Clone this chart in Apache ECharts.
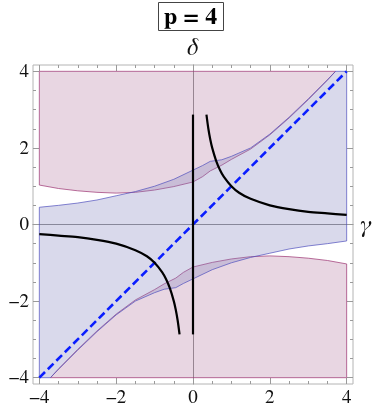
<!DOCTYPE html>
<html>
<head>
<meta charset="utf-8">
<script src="https://cdn.jsdelivr.net/npm/echarts@6/dist/echarts.min.js"></script>
<style>
html, body { margin: 0; padding: 0; background: #fff; }
#chart { width: 374px; height: 412px; }
</style>
</head>
<body>
<div id="chart"></div>
<script>
// tick values
var majorTicks = [-4, -2, 0, 2, 4];
var minorTicks = [-3.5, -3, -2.5, -1.5, -1, -0.5, 0.5, 1, 1.5, 2.5, 3, 3.5];
var plotMin = -4, plotMax = 4;

// blue region boundaries [gamma, delta]
var blueUpper = [[-4, 0.45], [-3.5, 0.50], [-3, 0.56], [-2.5, 0.64], [-2, 0.75], [-1.5, 0.86], [-1, 1.0], [-0.5, 1.18],
    [0, 1.42], [0.25, 1.54], [0.45, 1.65], [0.75, 1.69], [1, 1.78], [1.5, 2.0], [2, 2.36], [2.5, 2.8], [3, 3.28], [3.5, 3.78], [3.71, 4]];
var blueLower = [[-3.71, -4], [-3.5, -3.78], [-3, -3.28], [-2.5, -2.8], [-2, -2.36], [-1.5, -2.0], [-1, -1.78], [-0.75, -1.69],
    [-0.45, -1.65], [-0.25, -1.54], [0, -1.42], [0.5, -1.18], [1, -1.0], [1.5, -0.86], [2, -0.75], [2.5, -0.64], [3, -0.56], [3.5, -0.5], [4, -0.43]];

// pink regions: lower edge of the top one, upper edge of the bottom one
var pinkTopEdge = [[-4, 1.03], [-3.5, 0.94], [-3, 0.88], [-2.5, 0.84], [-2, 0.82], [-1.5, 0.84], [-1, 0.9], [-0.5, 0.99],
    [0, 1.11], [0.25, 1.25], [0.45, 1.4], [0.75, 1.55], [1, 1.7], [1.5, 1.97], [2, 2.34], [2.5, 2.78], [3, 3.26], [3.5, 3.77], [3.71, 4]];
var pinkBottomEdge = [[-3.71, -4], [-3.5, -3.77], [-3, -3.26], [-2.5, -2.78], [-2, -2.34], [-1.5, -1.97], [-1, -1.7], [-0.75, -1.55],
    [-0.45, -1.4], [-0.25, -1.25], [0, -1.11], [0.5, -0.99], [1, -0.9], [1.5, -0.84], [2, -0.82], [2.5, -0.84], [3, -0.88], [3.5, -0.94], [4, -1.03]];

// black curves
var hypRight = [[0.35, 2.87], [0.4, 2.5], [0.45, 2.22], [0.5, 2.0], [0.6, 1.67], [0.7, 1.43], [0.8, 1.25], [1, 1.0], [1.2, 0.83],
    [1.5, 0.67], [2, 0.5], [2.5, 0.4], [3, 0.33], [3.5, 0.29], [4, 0.25]];
var hypLeft = [[-4, -0.25], [-3.5, -0.29], [-3, -0.33], [-2.5, -0.4], [-2, -0.5], [-1.5, -0.67], [-1.2, -0.83], [-1, -1.0],
    [-0.8, -1.25], [-0.7, -1.43], [-0.6, -1.67], [-0.5, -2.0], [-0.45, -2.22], [-0.4, -2.5], [-0.35, -2.87]];
var vertLine = [[0, -2.87], [0, 2.87]];
var diagLine = [[-4, -4], [4, 4]];

var serif = 'FreeSerif, "DejaVu Serif", serif';
var axMin = -4.165, axMax = 4.165;

function fmt(v) {
    return v < 0 ? '\u2212' + Math.abs(v) : String(v);
}

function frameAxis(pos, ticks, len, labels) {
    return {
        type: 'value', position: pos, min: axMin, max: axMax,
        splitLine: { show: false },
        axisLine: { show: false, onZero: false },
        axisTick: { show: true, inside: true, length: len, customValues: ticks, lineStyle: { color: '#9a9a9a', width: 1 } },
        axisLabel: labels ? {
            show: true, customValues: ticks, formatter: fmt, fontFamily: serif, fontSize: 19, color: '#111', margin: 4
        } : { show: false }
    };
}

function zeroAxis(pos, name, nameGap) {
    return {
        type: 'value', position: pos, min: axMin, max: axMax,
        splitLine: { show: false }, axisTick: { show: false }, axisLabel: { show: false },
        axisLine: { show: true, onZero: true, onZeroAxisIndex: 0, lineStyle: { color: '#8c8c8c', width: 1 } },
        name: name, nameLocation: 'end', nameGap: nameGap,
        nameTextStyle: { fontFamily: serif, fontStyle: 'italic', fontSize: 24, color: '#111' }
    };
}

function polygonSeries(points, fill, stroke, z) {
    return {
        type: 'custom', coordinateSystem: 'cartesian2d', xAxisIndex: 0, yAxisIndex: 0,
        data: [[0, 0]], silent: true, clip: true, z: z,
        renderItem: function (params, api) {
            return {
                type: 'polygon',
                shape: { points: points.map(function (p) { return api.coord(p); }) },
                style: { fill: fill, stroke: stroke, lineWidth: 1 }
            };
        }
    };
}

function lineSeries(data, color, width, type, smooth) {
    return {
        type: 'line', data: data, xAxisIndex: 0, yAxisIndex: 0, showSymbol: false, silent: true,
        smooth: smooth, z: 5,
        lineStyle: { color: color, width: width, type: type }
    };
}

var pinkTopPoly = pinkTopEdge.concat([[plotMin, plotMax]]);
var pinkBottomPoly = pinkBottomEdge.concat([[plotMax, plotMin]]);
var bluePoly = [[plotMin, plotMin]].concat(blueUpper, [[plotMax, plotMax]], blueLower.slice().reverse());

var chart = echarts.init(document.getElementById('chart'));
chart.setOption({
    animation: false,
    title: {
        text: 'p = 4', left: 158, top: 2, padding: [3, 6, 2, 6],
        borderColor: '#444', borderWidth: 1,
        textStyle: { fontFamily: serif, fontWeight: 'bold', fontSize: 24, color: '#000' }
    },
    grid: {
        left: 33, right: 21, top: 65, bottom: 28, outerBoundsMode: 'none',
        show: true, borderColor: '#b4b4b4', borderWidth: 1, backgroundColor: 'transparent'
    },
    xAxis: [
        frameAxis('bottom', majorTicks, 6, true),
        frameAxis('bottom', minorTicks, 3, false),
        frameAxis('top', majorTicks, 6, false),
        frameAxis('top', minorTicks, 3, false),
        zeroAxis('bottom', '\u03b3', 7)
    ],
    yAxis: [
        frameAxis('left', majorTicks, 6, true),
        frameAxis('left', minorTicks, 3, false),
        frameAxis('right', majorTicks, 6, false),
        frameAxis('right', minorTicks, 3, false),
        zeroAxis('left', '\u03b4', 5)
    ],
    series: [
        polygonSeries(pinkTopPoly, 'rgba(178,118,158,0.3)', 'rgba(160,60,120,0.75)', 1),
        polygonSeries(pinkBottomPoly, 'rgba(178,118,158,0.3)', 'rgba(160,60,120,0.75)', 1),
        polygonSeries(bluePoly, 'rgba(128,128,188,0.3)', 'rgba(80,80,190,0.7)', 2),
        lineSeries(diagLine, '#0a1eff', 2.6, [8, 4], false),
        lineSeries(vertLine, '#000', 2.2, 'solid', false),
        lineSeries(hypRight, '#000', 2.2, 'solid', 0.3),
        lineSeries(hypLeft, '#000', 2.2, 'solid', 0.3)
    ]
});
</script>
</body>
</html>
